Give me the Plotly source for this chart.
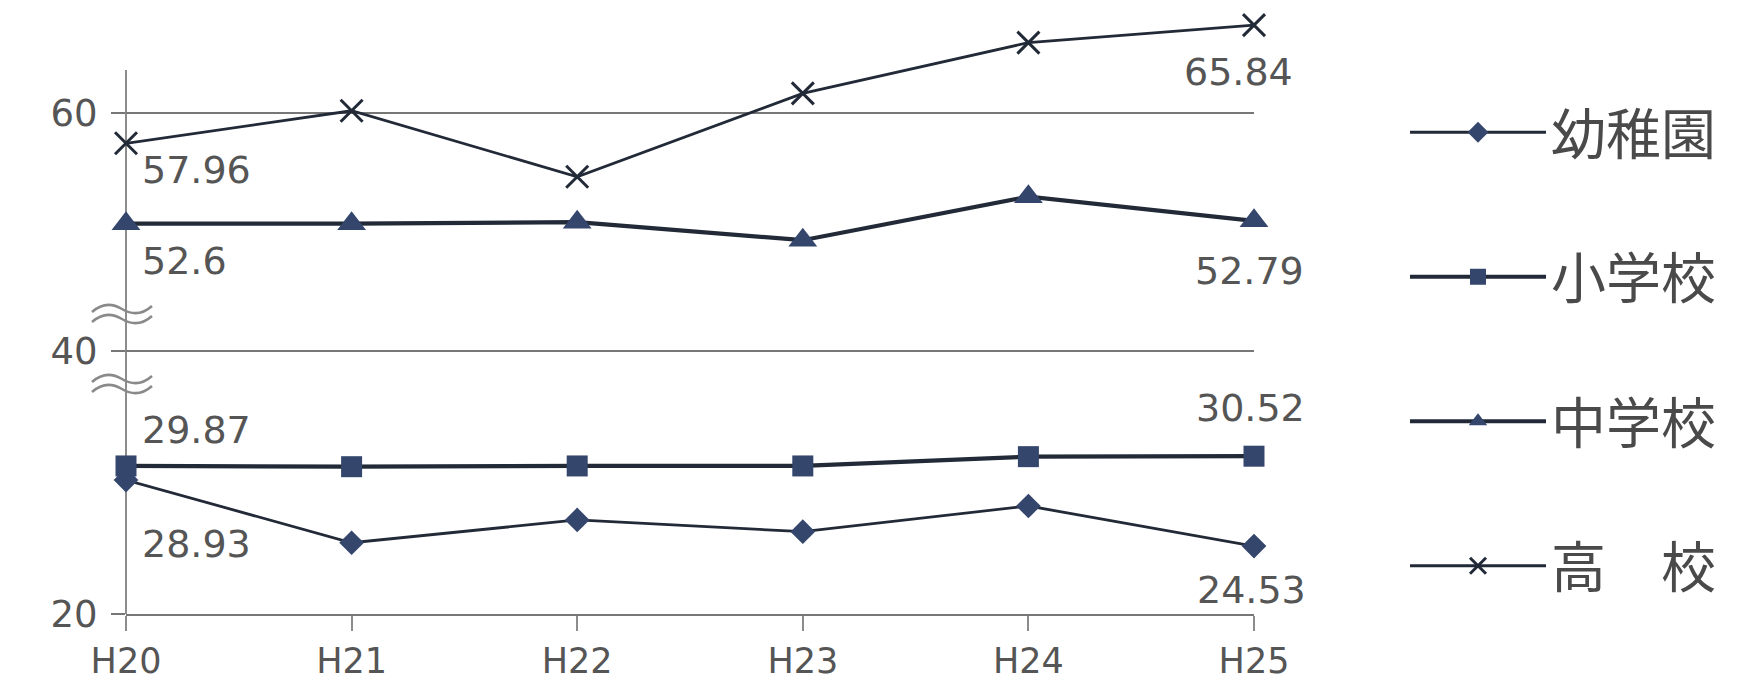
import plotly.graph_objects as go

# ---------------- data ----------------
years = ["H20", "H21", "H22", "H23", "H24", "H25"]
youchien = [28.93, 24.75, 26.27, 25.49, 27.20, 24.53]   # 幼稚園
shogakko = [29.87, 29.82, 29.87, 29.87, 30.49, 30.52]   # 小学校
chugakko = [52.60, 52.60, 52.70, 51.50, 54.40, 52.79]   # 中学校
koko = [57.96, 60.13, 55.73, 61.29, 64.67, 65.84]       # 高校
series_names = ["幼稚園", "小学校", "中学校", "高　校"]
ytick_lower = [20]
ytick_mid = [40]
ytick_upper = [60]

# ---------------- style ----------------
W, H = 1738, 684
ML, MR, MT, MB = 126, 484, 10, 70
LINE = "#222a38"
MARK = "#34466c"
GRID = "#777777"
AXIS = "#8c8c8c"
TXT = "#555555"
FONT = "DejaVu Sans"

fig = go.Figure()

trace_specs = [
    (series_names[0], youchien, "diamond", 19, "y", 2.8),
    (series_names[1], shogakko, "square", 21, "y", 4.2),
    (series_names[2], chugakko, "triangle-up", 25, "y2", 4.2),
    (series_names[3], koko, "x-thin", 22, "y2", 2.8),
]
for i, (name, vals, sym, size, yax, lw) in enumerate(trace_specs):
    if sym == "x-thin":
        marker = dict(symbol=sym, size=size, color=MARK, line=dict(width=3, color=LINE))
    else:
        marker = dict(symbol=sym, size=size, color=MARK, line=dict(width=0))
    fig.add_trace(go.Scatter(
        x=years, y=vals, name=name, mode="lines+markers",
        line=dict(color=LINE, width=lw), marker=marker,
        yaxis=yax, cliponaxis=False, legendgroup=f"g{i}",
    ))

# empty trace that registers the middle (axis-break) axis
fig.add_trace(go.Scatter(x=[], y=[], yaxis="y3", showlegend=False, hoverinfo="skip"))

# ---------------- data labels ----------------
label_specs = [
    (koko, 0, "y2", "left", 14, -27),
    (chugakko, 0, "y2", "left", 14, -37),
    (shogakko, 0, "y", "left", 14, 36),
    (youchien, 0, "y", "left", 14, -64),
    (koko, 5, "y2", "center", -16, -47),
    (chugakko, 5, "y2", "center", -5, -50),
    (shogakko, 5, "y", "center", -4, 48),
    (youchien, 5, "y", "center", -3, -44),
]
annotations = []
for vals, idx, yref, xanchor, xs, ys in label_specs:
    annotations.append(dict(
        x=years[idx], y=vals[idx], xref="x", yref=yref, text=f"{vals[idx]:g}",
        showarrow=False, xanchor=xanchor, yanchor="middle", xshift=xs, yshift=ys,
        font=dict(family=FONT, size=38, color=TXT),
    ))

# ---------------- axes ----------------
plot_h = H - MT - MB
def py(pix):
    return (H - MB - pix) / plot_h

px_per_unit = 15.0
lower_top_pix, mid_top_pix = 384, 314
d_low = py(lower_top_pix)
d_mid = py(mid_top_pix)

y_lower_range = [20, 20 + (H - MB - lower_top_pix) / px_per_unit]
y_mid_range = [40 - (lower_top_pix - 351) / px_per_unit, 40 + (351 - mid_top_pix) / px_per_unit]
y_up_range = [60 - (mid_top_pix - 112.7) / px_per_unit, 60 + (112.7 - MT) / px_per_unit]

common_y = dict(
    showline=False, zeroline=False, showgrid=True, gridcolor=GRID, gridwidth=1.5,
    ticks="outside", ticklen=14, tickwidth=1.5, tickcolor=GRID,
    tickfont=dict(family=FONT, size=37, color=TXT), ticklabelstandoff=6,
    fixedrange=True, automargin=False,
)

# axis line + wavy axis-break marks (decoration)
tilde = "M -30,{a} C -20,{b} -10,{b} 0,{m} C 10,{c} 20,{c} 30,{d}"
shapes = [dict(
    type="line", xref="paper", yref="paper", x0=0, x1=0, y0=0, y1=py(70),
    line=dict(color=AXIS, width=2), layer="below",
)]
for yb in (314, 384):
    for off in (5, -5):
        path = tilde.format(a=off - 3, b=off + 6, m=off, c=off - 6, d=off + 3)
        shapes.append(dict(
            type="path", path=path,
            xref="paper", yref="paper", xsizemode="pixel", ysizemode="pixel",
            xanchor=-4 / (W - ML - MR), yanchor=py(yb),
            line=dict(color="#8a8a8a", width=2.5),
        ))

fig.update_layout(
    width=W, height=H, autosize=False,
    margin=dict(l=ML, r=MR, t=MT, b=MB, pad=0, autoexpand=False),
    paper_bgcolor="white", plot_bgcolor="white",
    hovermode=False,
    xaxis=dict(
        type="category", range=[0, len(years) - 1], anchor="y", automargin=False,
        showline=True, linecolor=GRID, linewidth=1.5, showgrid=False, zeroline=False,
        ticks="outside", ticklen=15, tickwidth=2, tickcolor=AXIS,
        tickfont=dict(family=FONT, size=35, color=TXT), ticklabelstandoff=0,
    ),
    yaxis=dict(domain=[0, d_low], range=y_lower_range, tickvals=ytick_lower, **common_y),
    yaxis3=dict(domain=[d_low, d_mid], range=y_mid_range, tickvals=ytick_mid, anchor="x", **common_y),
    yaxis2=dict(domain=[d_mid, 1], range=y_up_range, tickvals=ytick_upper, anchor="x", **common_y),
    legend=dict(
        x=1405 / W, y=1 - 90 / H, xref="container", yref="container",
        xanchor="left", yanchor="top",
        font=dict(family="Noto Sans CJK JP", size=55, color="#4a4a4a"),
        itemwidth=136, tracegroupgap=70, bgcolor="rgba(0,0,0,0)",
        maxheight=684,
    ),
    annotations=annotations,
    shapes=shapes,
    showlegend=True,
)

fig.write_html("out.html")
